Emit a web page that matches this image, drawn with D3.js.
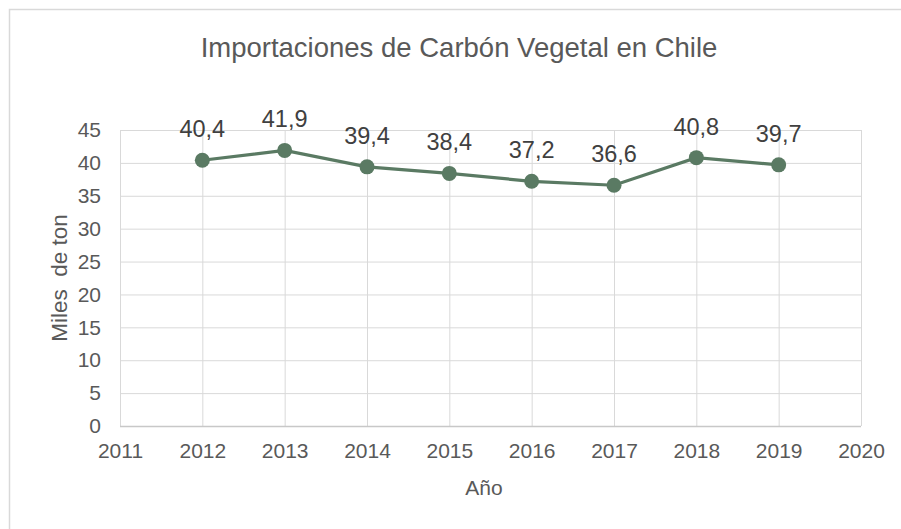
<!DOCTYPE html>
<html>
<head>
<meta charset="utf-8">
<script src="https://cdn.jsdelivr.net/npm/d3@7"></script>
<style>
  body { margin: 0; background: #fff; }
  svg text { font-family: "Liberation Sans", Arial, sans-serif; }
</style>
</head>
<body>
<svg id="chart"></svg>
<script>
// values
const years = [2012, 2013, 2014, 2015, 2016, 2017, 2018, 2019];
const imports = [40.4, 41.9, 39.4, 38.4, 37.2, 36.6, 40.8, 39.7];
const xTicks = [2011, 2012, 2013, 2014, 2015, 2016, 2017, 2018, 2019, 2020];
const yTicks = [0, 5, 10, 15, 20, 25, 30, 35, 40, 45];

const width = 901, height = 529;
const margin = {top: 130, right: 40, bottom: 103, left: 120};
const innerWidth = width - margin.left - margin.right;
const innerHeight = height - margin.top - margin.bottom;

const svg = d3.select("#chart").attr("width", width).attr("height", height);

// outer chart border (only top and left edges are inside the picture)
svg.append("path")
    .attr("d", `M9.5,${height}V9.5H${width}`)
    .attr("fill", "none").attr("stroke", "#d9d9d9").attr("stroke-width", 1.5);

svg.append("text")
    .attr("x", 459).attr("y", 57)
    .attr("text-anchor", "middle")
    .attr("font-size", 27.5)
    .attr("fill", "#595959")
    .text("Importaciones de Carbón Vegetal en Chile");

const g = svg.append("g").attr("transform", `translate(${margin.left},${margin.top})`);

const x = d3.scaleLinear().domain([2011, 2020]).range([0, innerWidth]);
const y = d3.scaleLinear().domain([0, 45]).range([innerHeight, 0]);

// horizontal grid
g.append("g")
    .call(d3.axisLeft(y).tickValues(yTicks).tickSize(-innerWidth).tickFormat(""))
    .call(s => s.select(".domain").remove())
    .selectAll("line").attr("stroke", "#d9d9d9");

// vertical grid
g.append("g")
    .attr("transform", `translate(0,${innerHeight})`)
    .call(d3.axisBottom(x).tickValues(xTicks).tickSize(-innerHeight).tickFormat(""))
    .call(s => s.select(".domain").remove())
    .selectAll("line").attr("stroke", "#d9d9d9");

// x axis baseline
g.append("line")
    .attr("x1", 0).attr("x2", innerWidth)
    .attr("y1", innerHeight + 0.5).attr("y2", innerHeight + 0.5)
    .attr("stroke", "#c8c8c8").attr("stroke-width", 1.5);

// tick labels
const yAxis = g.append("g")
    .call(d3.axisLeft(y).tickValues(yTicks).tickSize(0).tickPadding(19));
yAxis.select(".domain").remove();
yAxis.selectAll("text").attr("font-size", 21).attr("fill", "#595959");

const xAxis = g.append("g")
    .attr("transform", `translate(0,${innerHeight})`)
    .call(d3.axisBottom(x).tickValues(xTicks).tickSize(0).tickPadding(17).tickFormat(d3.format("d")));
xAxis.select(".domain").remove();
xAxis.selectAll("text").attr("font-size", 21).attr("fill", "#595959");

// axis titles
svg.append("text")
    .attr("x", 484).attr("y", 495)
    .attr("text-anchor", "middle")
    .attr("font-size", 21)
    .attr("fill", "#595959")
    .text("Año");

svg.append("text")
    .attr("transform", `translate(67,${margin.top + innerHeight / 2}) rotate(-90)`)
    .attr("text-anchor", "middle")
    .attr("font-size", 22.5)
    .attr("fill", "#595959")
    .style("white-space", "pre")
    .text("Miles  de ton");

// series
const data = years.map((yr, i) => ({year: yr, value: imports[i]}));
const lineColor = "#5a7a63";

g.append("path")
    .datum(data)
    .attr("fill", "none")
    .attr("stroke", lineColor)
    .attr("stroke-width", 3.2)
    .attr("d", d3.line().x(d => x(d.year)).y(d => y(d.value)));

g.selectAll("circle").data(data).join("circle")
    .attr("cx", d => x(d.year))
    .attr("cy", d => y(d.value))
    .attr("r", 7.5)
    .attr("fill", lineColor);

g.selectAll(".lbl").data(data).join("text")
    .attr("class", "lbl")
    .attr("x", d => x(d.year))
    .attr("y", d => y(d.value) - 23)
    .attr("text-anchor", "middle")
    .attr("font-size", 23.5)
    .attr("fill", "#404040")
    .text(d => d3.format(".1f")(d.value).replace(".", ","));
</script>
</body>
</html>
